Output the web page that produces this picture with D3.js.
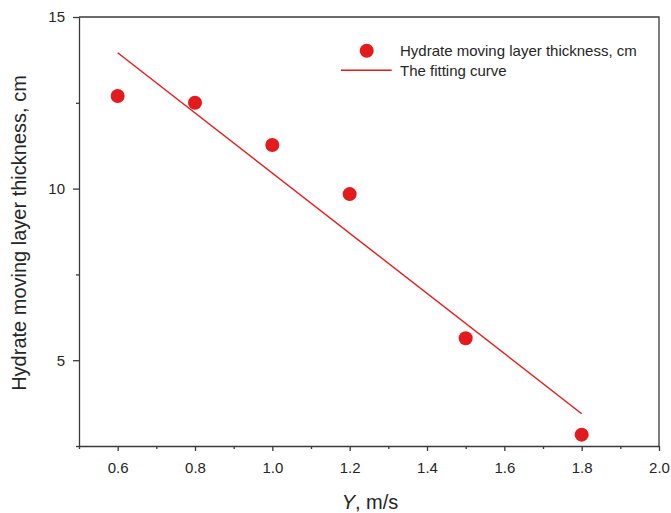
<!DOCTYPE html>
<html>
<head>
<meta charset="utf-8">
<script src="https://cdn.jsdelivr.net/npm/d3@7"></script>
<style>
  body { margin: 0; background: #fff; }
  svg text { font-family: Arial, "Liberation Sans", sans-serif; fill: #262626; }
</style>
</head>
<body>
<div id="chart"></div>
<script>
// measured values
var velocity = [0.6, 0.8, 1.0, 1.2, 1.5, 1.8];
var thickness = [12.7, 12.5, 11.27, 9.84, 5.64, 2.83];

// fitted straight line, read at its two ends
var fitX = [0.6, 1.8];
var fitY = [13.96, 3.44];

var xTicks = [0.6, 0.8, 1.0, 1.2, 1.4, 1.6, 1.8, 2.0];
var xMinor = [0.5, 0.7, 0.9, 1.1, 1.3, 1.5, 1.7, 1.9];
var yTicks = [5, 10, 15];
var yMinor = [2.5, 7.5, 12.5];

var legendLabels = ["Hydrate moving layer thickness, cm", "The fitting curve"];

var W = 671, H = 513;
var margin = {top: 17, right: 12, bottom: 67, left: 79};
var width = W - margin.left - margin.right;
var height = H - margin.top - margin.bottom;
var red = "#e31b1c", axisColor = "#3a3a3a";

var svg = d3.select("#chart").append("svg")
  .attr("width", W)
  .attr("height", H);

var g = svg.append("g")
  .attr("transform", "translate(" + margin.left + "," + margin.top + ")");

var x = d3.scaleLinear().domain([0.5, 2.0]).range([0, width]);
var y = d3.scaleLinear().domain([2.5, 15]).range([height, 0]);

//-- frame (top and right)
g.append("path")
  .attr("d", "M0,0H" + width + "V" + height)
  .attr("fill", "none")
  .attr("stroke", axisColor)
  .attr("stroke-width", 1.3);

//-- axes
var xAxis = g.append("g")
  .attr("transform", "translate(0," + height + ")")
  .call(d3.axisBottom(x).tickValues(xTicks).tickSize(5).tickSizeOuter(0).tickPadding(11)
    .tickFormat(d3.format(".1f")));

var xMinorAxis = g.append("g")
  .attr("transform", "translate(0," + height + ")")
  .call(d3.axisBottom(x).tickValues(xMinor).tickSize(3).tickSizeOuter(0).tickFormat(""));

var yAxis = g.append("g")
  .call(d3.axisLeft(y).tickValues(yTicks).tickSize(6).tickSizeOuter(0).tickPadding(8));

var yMinorAxis = g.append("g")
  .call(d3.axisLeft(y).tickValues(yMinor).tickSize(3).tickSizeOuter(0).tickFormat(""));

[xAxis, xMinorAxis, yAxis, yMinorAxis].forEach(function (a) {
  a.selectAll("path, line").attr("stroke", axisColor).attr("stroke-width", 1.3);
  a.selectAll("text").attr("font-size", 15).attr("fill", "#262626");
});
xMinorAxis.select(".domain").remove();
yMinorAxis.select(".domain").remove();

//-- axis titles
g.append("text")
  .attr("transform", "translate(" + (-53.5) + "," + (233 - margin.top) + ") rotate(-90)")
  .attr("text-anchor", "middle")
  .attr("font-size", 20)
  .text("Hydrate moving layer thickness, cm");

var xt = g.append("text")
  .attr("x", width / 2 + 1)
  .attr("y", 509 - margin.top)
  .attr("text-anchor", "middle")
  .attr("font-size", 20);
xt.append("tspan").attr("font-style", "italic").text("Y");
xt.append("tspan").text(", m/s");

//-- fitting line
var fitData = fitX.map(function (d, i) { return [d, fitY[i]]; });
g.append("path")
  .datum(fitData)
  .attr("fill", "none")
  .attr("stroke", red)
  .attr("stroke-width", 1.4)
  .attr("d", d3.line().x(function (d) { return x(d[0]); }).y(function (d) { return y(d[1]); }));

//-- points
g.selectAll(".pt").data(velocity).enter().append("circle")
  .attr("class", "pt")
  .attr("cx", function (d) { return x(d); })
  .attr("cy", function (d, i) { return y(thickness[i]); })
  .attr("r", 7)
  .attr("fill", red);

//-- legend
var leg = g.append("g").attr("transform", "translate(" + (366.7 - margin.left) + "," + (50.7 - margin.top) + ")");
leg.append("circle").attr("cx", 0).attr("cy", 0).attr("r", 7).attr("fill", red);
leg.append("line")
  .attr("x1", -25.7).attr("x2", 25)
  .attr("y1", 19.5).attr("y2", 19.5)
  .attr("stroke", red).attr("stroke-width", 1.4);
leg.selectAll(".lt").data(legendLabels).enter().append("text")
  .attr("class", "lt")
  .attr("x", 33.3)
  .attr("y", function (d, i) { return 5.5 + i * 19.5; })
  .attr("font-size", 15)
  .text(function (d) { return d; });
</script>
</body>
</html>
